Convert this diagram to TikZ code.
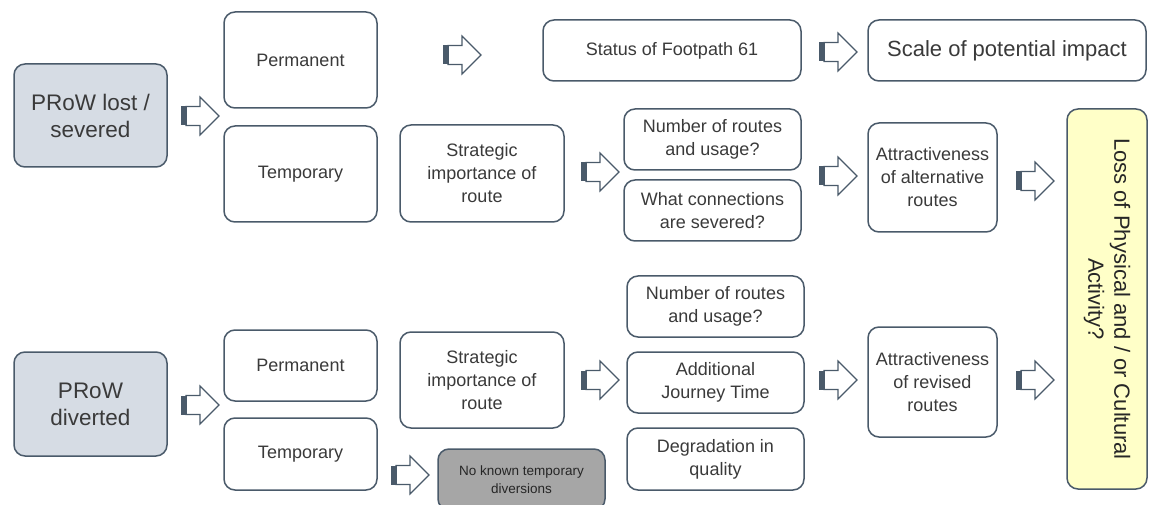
\documentclass[tikz,border=0pt]{standalone}
\usepackage{fontspec}
\setmainfont{Liberation Sans}
\definecolor{edge}{HTML}{4A5A6A}
\definecolor{txt}{HTML}{3A3A3A}
\definecolor{prow}{HTML}{D6DCE4}
\definecolor{lossy}{HTML}{FFFFC8}
\definecolor{greyb}{HTML}{A6A6A6}
\tikzset{
  box/.style={draw=edge, line width=1.5pt, rounded corners=11pt, fill=white,
    align=center, text=txt, inner sep=2pt, outer sep=0pt,
    font=\fontsize{18}{23}\selectfont},
  prowbox/.style={box, fill=prow, font=\fontsize{22.5}{27}\selectfont},
  barrow/.pic={
    \draw[edge, line width=1.2pt, fill=white, line join=miter]
      (5,-9.5) -- (19,-9.5) -- (19,-19) -- (38,0) -- (19,19) -- (19,9.5) -- (5,9.5) -- cycle;
    \fill[edge] (0,-9.5) rectangle (5.6,9.5);
  }
}
\begin{document}
\begin{tikzpicture}[x=1pt,y=-1pt]
\useasboundingbox (0,0) rectangle (1149,505);
\clip (0,0) rectangle (1149,505);
% left column
\node[prowbox, minimum width=153pt, minimum height=103pt] (lost) at (90.5,115.5) {PRoW lost /\\severed};
\node[prowbox, minimum width=153pt, minimum height=104pt] (div) at (90.5,404) {PRoW\\diverted};
% second column
\node[box, minimum width=153pt, minimum height=96pt] (perm1) at (300.5,60) {Permanent};
\node[box, minimum width=153pt, minimum height=96pt] (temp1) at (300.5,174) {Temporary};
\node[box, minimum width=153pt, minimum height=71pt] (perm2) at (300.5,365.5) {Permanent};
\node[box, minimum width=153pt, minimum height=72pt] (temp2) at (300.5,454) {Temporary};
% strategic
\node[box, minimum width=164pt, minimum height=97pt] (strat1) at (482,173.5) {Strategic\\importance of\\route};
\node[box, minimum width=164pt, minimum height=96pt] (strat2) at (482,380) {Strategic\\importance of\\route};
\node[box, fill=greyb, minimum width=167pt, minimum height=61pt, font=\fontsize{13.5}{18}\selectfont, text=black!85] (noknown) at (521.5,479.5) {No known temporary\\diversions};
% top row
\node[box, minimum width=258pt, minimum height=61pt] (status) at (672,50.5) {Status of Footpath 61};
\node[box, minimum width=278pt, minimum height=61pt, font=\fontsize{22}{26}\selectfont] (scale) at (1007,50.5) {Scale of potential impact};
% questions
\node[box, minimum width=177pt, minimum height=61pt] (num1) at (712.5,139.5) {Number of routes\\and usage?};
\node[box, minimum width=177pt, minimum height=61pt] (conn) at (712.5,210.5) {What connections\\are severed?};
\node[box, minimum width=177pt, minimum height=61pt] (num2) at (715.5,306.5) {Number of routes\\and usage?};
\node[box, minimum width=177pt, minimum height=61pt] (addj) at (715.5,382.5) {Additional\\Journey Time};
\node[box, minimum width=177pt, minimum height=62pt] (deg) at (715.5,459) {Degradation in\\quality};
% attractiveness
\node[box, minimum width=129pt, minimum height=109pt] (attr1) at (932.5,177.5) {Attractiveness\\of alternative\\routes};
\node[box, minimum width=129pt, minimum height=110pt] (attr2) at (932.5,382) {Attractiveness\\of revised\\routes};
% loss
\node[box, fill=lossy, minimum width=380pt, minimum height=80pt, rotate=-90, font=\fontsize{22}{26}\selectfont, text=black!85] (loss) at (1107,299) {Loss of Physical and / or Cultural\\Activity?};
% block arrows
\pic (a1) at (181,116) {barrow};
\pic (a2) at (443,55) {barrow};
\pic (a3) at (819,52) {barrow};
\pic (a4) at (581,172) {barrow};
\pic (a5) at (819,176) {barrow};
\pic (a6) at (1016,181) {barrow};
\pic (a7) at (181,405) {barrow};
\pic (a8) at (581,380) {barrow};
\pic (a9) at (819,380) {barrow};
\pic (a10) at (1016,380) {barrow};
\pic (a11) at (391,475) {barrow};
\end{tikzpicture}
\end{document}
